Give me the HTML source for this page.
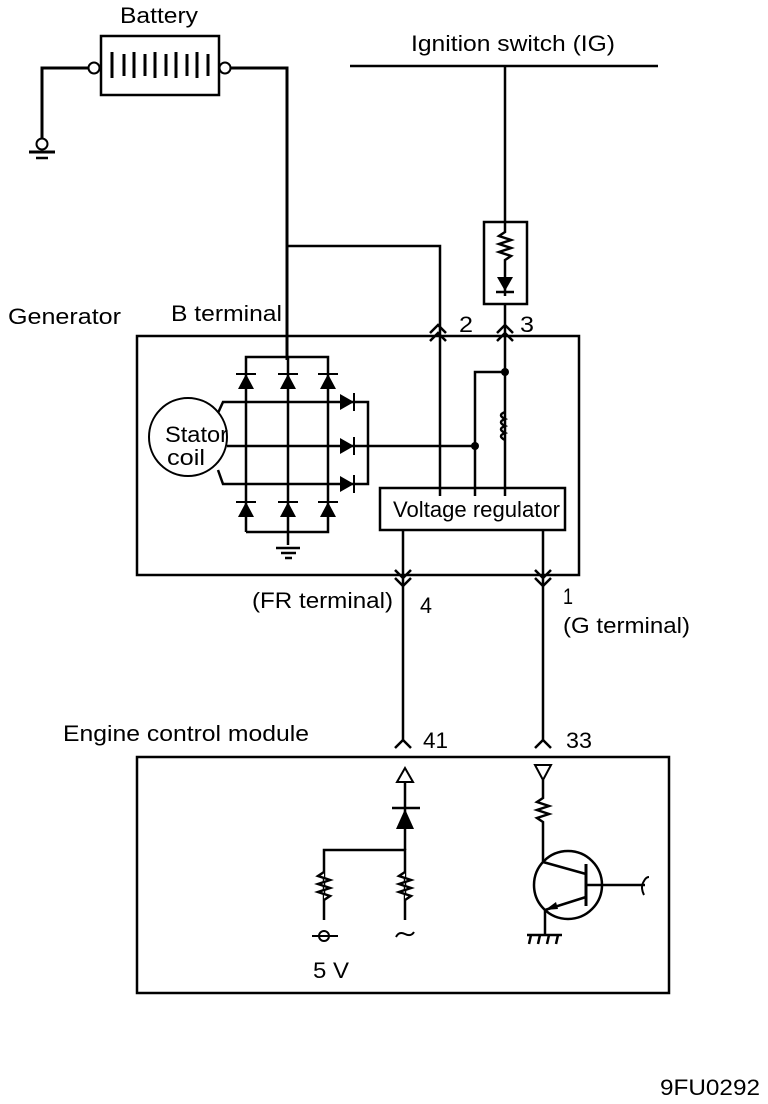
<!DOCTYPE html>
<html><head><meta charset="utf-8"><style>
html,body{margin:0;padding:0;background:#fff}
svg{display:block}
text{font-family:"Liberation Sans",sans-serif;font-size:22px;fill:#000}
</style></head><body>
<svg width="768" height="1104" viewBox="0 0 768 1104" xmlns="http://www.w3.org/2000/svg">
<g stroke="#000" stroke-width="2.5" fill="none">
<rect x="101" y="36" width="118" height="59"/>
<circle cx="94" cy="68" r="5.5" stroke-width="2"/>
<circle cx="225" cy="68" r="5.5" stroke-width="2"/>
<g stroke-width="3"><line x1="112" y1="52" x2="112" y2="78"/><line x1="124" y1="54" x2="124" y2="76"/><line x1="134" y1="52" x2="134" y2="78"/><line x1="145" y1="54" x2="145" y2="76"/><line x1="155" y1="52" x2="155" y2="78"/><line x1="166" y1="54" x2="166" y2="76"/><line x1="176" y1="52" x2="176" y2="78"/><line x1="187" y1="54" x2="187" y2="76"/><line x1="197" y1="52" x2="197" y2="78"/><line x1="208" y1="54" x2="208" y2="76"/></g>
<polyline points="88,68 42,68 42,138" stroke-width="3"/>
<circle cx="42" cy="144" r="5.5" stroke-width="2"/>
<line x1="29" y1="152" x2="55" y2="152" stroke-width="3"/>
<line x1="36" y1="158" x2="48" y2="158"/>
<polyline points="231,68 287,68 287,360" stroke-width="3"/>
<line x1="350" y1="66" x2="658" y2="66"/>
<line x1="505" y1="66" x2="505" y2="223"/>
<rect x="484" y="222" width="43" height="82"/>
<polyline points="505,223 505,232 499,236 511,240 499,244 511,248 499,252 511,256 505,260 505,296"/>
<line x1="496" y1="292" x2="514" y2="292"/>
<line x1="505" y1="304" x2="505" y2="496"/>
<polyline points="288,246 440,246 440,496"/>
<polyline points="430,333 438,325 446,333"/><polyline points="430,341 438,333 446,341"/>
<polyline points="497,333 505,325 513,333"/><polyline points="497,341 505,333 513,341"/>
<rect x="137" y="336" width="442" height="239"/>
<polyline points="246,532 246,357 328,357 328,532 246,532"/>
<line x1="288" y1="357" x2="288" y2="545"/>
<line x1="276" y1="548" x2="300" y2="548"/><line x1="281" y1="553" x2="296" y2="553"/><line x1="285" y1="558" x2="292" y2="558"/>
<circle cx="188" cy="437" r="39" stroke-width="2"/>
<polyline points="218,413 223,402 368,402 368,484 223,484 218,470"/>
<line x1="227" y1="446" x2="475" y2="446"/>
<polyline points="475,496 475,372 505,372"/>
<path d="M505 412 q-8 3 0 7 q-8 3 0 7 q-8 3 0 7 q-8 3 0 7"/>
<rect x="380" y="488" width="185" height="42"/>
<line x1="403" y1="530" x2="403" y2="740"/>
<line x1="543" y1="530" x2="543" y2="740"/>
<polyline points="395,570 403,578 411,570"/><polyline points="395,578 403,586 411,578"/>
<polyline points="535,570 543,578 551,570"/><polyline points="535,578 543,586 551,578"/>
<polyline points="395,748 403,740 411,748"/>
<polyline points="535,748 543,740 551,748"/>
<rect x="137" y="757" width="532" height="236"/>
<polygon points="405,768 397,782 413,782" stroke-width="2"/>
<line x1="405" y1="782" x2="405" y2="850"/>
<line x1="392" y1="808" x2="420" y2="808"/>
<polyline points="324,920 324,850 405,850 405,920"/>
<polyline points="324,872 318,876 330,880 318,884 330,888 318,892 330,896 324,900" fill="#fff"/>
<polyline points="405,872 399,876 411,880 399,884 411,888 399,892 411,896 405,900" fill="#fff"/>
<circle cx="324" cy="936" r="5" stroke-width="2"/>
<line x1="312" y1="936" x2="338" y2="936" stroke-width="2"/>
<path d="M396 937 q3 -6 9 -3 q6 3 9 -2" stroke-width="2"/>
<polygon points="535,765 551,765 543,780" stroke-width="2"/>
<polyline points="543,780 543,798 537,802 549,806 537,810 549,814 537,818 543,822 543,862"/>
<circle cx="568" cy="885" r="34"/>
<line x1="586" y1="864" x2="586" y2="906" stroke-width="3"/>
<line x1="543" y1="862" x2="586" y2="874"/>
<line x1="586" y1="897" x2="545" y2="910"/>
<line x1="545" y1="910" x2="545" y2="935"/>
<line x1="586" y1="885" x2="645" y2="885"/>
<path d="M644 895 q-4 -8 0 -14 q2 -4 5 -4" stroke-width="2"/>
<line x1="527" y1="935" x2="562" y2="935"/>
<line x1="531" y1="935" x2="529" y2="944"/><line x1="540" y1="935" x2="538" y2="944"/><line x1="549" y1="935" x2="547" y2="944"/><line x1="558" y1="935" x2="556" y2="944"/>
</g>
<g fill="#000">
<circle cx="475" cy="446" r="4"/><circle cx="505" cy="372" r="4"/>
<polygon points="246,374 238,389 254,389"/><polygon points="288,374 280,389 296,389"/><polygon points="328,374 320,389 336,389"/>
<rect x="236" y="373" width="20" height="2"/><rect x="278" y="373" width="20" height="2"/><rect x="318" y="373" width="20" height="2"/>
<polygon points="246,502 238,517 254,517"/><polygon points="288,502 280,517 296,517"/><polygon points="328,502 320,517 336,517"/>
<rect x="236" y="501" width="20" height="2"/><rect x="278" y="501" width="20" height="2"/><rect x="318" y="501" width="20" height="2"/>
<polygon points="354,402 340,394 340,410"/><rect x="353" y="393" width="2" height="18"/>
<polygon points="354,446 340,438 340,454"/><rect x="353" y="437" width="2" height="18"/>
<polygon points="354,484 340,476 340,492"/><rect x="353" y="475" width="2" height="18"/>
<polygon points="505,291 497,277 513,277"/>
<polygon points="405,809 396,829 414,829"/>
<polygon points="545,910 556,902 558,909"/>
</g>
<text x="120" y="23" textLength="78" lengthAdjust="spacingAndGlyphs">Battery</text>
<text x="411" y="51" textLength="204" lengthAdjust="spacingAndGlyphs">Ignition switch (IG)</text>
<text x="8" y="324" textLength="113" lengthAdjust="spacingAndGlyphs">Generator</text>
<text x="171" y="321" textLength="111" lengthAdjust="spacingAndGlyphs">B terminal</text>
<text x="459" y="332" textLength="14" lengthAdjust="spacingAndGlyphs">2</text>
<text x="520" y="332" textLength="14" lengthAdjust="spacingAndGlyphs">3</text>
<text x="165" y="442" textLength="63" lengthAdjust="spacingAndGlyphs">Stator</text>
<text x="167" y="465" textLength="38" lengthAdjust="spacingAndGlyphs">coil</text>
<text x="393" y="517" textLength="167" lengthAdjust="spacingAndGlyphs">Voltage regulator</text>
<text x="252" y="608" textLength="141" lengthAdjust="spacingAndGlyphs">(FR terminal)</text>
<text x="420" y="613" textLength="12" lengthAdjust="spacingAndGlyphs">4</text>
<text x="563" y="604" textLength="10" lengthAdjust="spacingAndGlyphs">1</text>
<text x="563" y="633" textLength="127" lengthAdjust="spacingAndGlyphs">(G terminal)</text>
<text x="63" y="741" textLength="246" lengthAdjust="spacingAndGlyphs">Engine control module</text>
<text x="423" y="748" textLength="25" lengthAdjust="spacingAndGlyphs">41</text>
<text x="566" y="748" textLength="26" lengthAdjust="spacingAndGlyphs">33</text>
<text x="313" y="978" textLength="36" lengthAdjust="spacingAndGlyphs">5 V</text>
<text x="660" y="1095" textLength="100" lengthAdjust="spacingAndGlyphs">9FU0292</text>
</svg>
</body></html>
